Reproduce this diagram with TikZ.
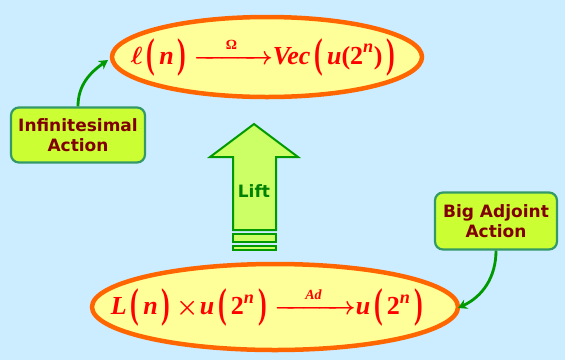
\documentclass[tikz,border=0pt]{standalone}
\usepackage{amsmath}
\usepackage{graphicx}
\usepackage{fontspec}
\newfontfamily\boxfont{DejaVu Sans}
\newfontfamily\tnr{Liberation Serif}
\usetikzlibrary{shapes.geometric,arrows.meta}
\definecolor{bg}{HTML}{CCECFF}
\definecolor{ellfill}{HTML}{FFFF99}
\definecolor{ellline}{HTML}{FF6600}
\definecolor{boxfill}{HTML}{CCFF33}
\definecolor{boxline}{HTML}{339966}
\definecolor{boxtext}{HTML}{800000}
\definecolor{conn}{HTML}{009900}
\definecolor{liftfill}{HTML}{CCFF66}
\definecolor{mathred}{HTML}{FF0000}
\newcommand\tx[1]{\text{\tnr\bfseries\itshape #1}}
\newcommand\tu[1]{\text{\tnr\bfseries #1}}
\newcommand\arr[2]{{\mkern2mu\xrightarrow{\makebox[#1]{\fontsize{14}{14}\selectfont #2}}}}
\newcommand\lpar{\mathopen{\mkern2.5mu\raisebox{-3.5pt}{\scalebox{1}[1.6]{\tnr\bfseries(}}\mkern2.5mu}}
\newcommand\rpar{\mathclose{\mkern2.5mu\raisebox{-3.5pt}{\scalebox{1}[1.6]{\tnr\bfseries)}}\mkern2.5mu}}
\tikzset{
  ell/.style={ellipse, draw=ellline, fill=ellfill, line width=4.5pt, inner sep=0pt},
  formula/.style={text=mathred, font=\fontsize{26}{30}\selectfont\boldmath},
  actbox/.style={draw=boxline, fill=boxfill, line width=2.2pt, rounded corners=8pt, text=boxtext,
    font=\boxfont\bfseries\fontsize{17}{20}\selectfont, align=center, inner sep=0pt},
  conn/.style={draw=conn, line width=2.8pt, -{Stealth[length=9pt,width=10pt]}},
  liftshape/.style={draw=conn, fill=liftfill, line width=2pt, line join=miter}
}
\begin{document}
\begin{tikzpicture}[x=1pt,y=-1pt]
\fill[bg] (0,0) rectangle (565,360);
\useasboundingbox (0,0) rectangle (565,360);

% ellipses
\node[ell, minimum width=310pt, minimum height=80pt] (top) at (267,57) {};
\node[ell, minimum width=366pt, minimum height=86pt] (bot) at (275,307) {};

\node[formula] (topf) at (265,57) {$\ell\lpar\tx{n}\rpar\arr{64pt}{\tu{Ω}}\tx{Vec}\lpar\tx{u}\tu{(2}^{\tx{n}}\tu{)}\rpar$};
\node[formula] (botf) at (269,307) {$\tx{L}\lpar\tx{n}\rpar\!\times\!\tx{u}\lpar\tu{2}^{\tx{n}}\rpar\arr{66pt}{\tx{Ad}}\tx{u}\lpar\tu{2}^{\tx{n}}\rpar$};

% action boxes
\node[actbox, minimum width=134pt, minimum height=55pt] (inf) at (78,135) {Infinitesimal\\Action};
\node[actbox, minimum width=122pt, minimum height=57pt] (big) at (496,221) {Big Adjoint\\Action};

\coordinate (infend) at (108,60);
\coordinate (bigend) at (458,308);
\draw[conn] (inf.north) to[out=90, in=215] (infend);
\draw[conn] (big.south) to[out=-90, in=25] (bigend);

% lift arrow
\draw[liftshape] (233,230) -- (233,157) -- (210,157) -- (254,124) -- (298,157) -- (276,157) -- (276,230) -- cycle;
\draw[liftshape] (233,234) rectangle (276,242);
\draw[liftshape] (233,245.5) rectangle (276,249.5);
\node[text=conn!85!black, font=\boxfont\bfseries\fontsize{17}{20}\selectfont] (lift) at (254,191) {Lift};
\end{tikzpicture}
\end{document}
